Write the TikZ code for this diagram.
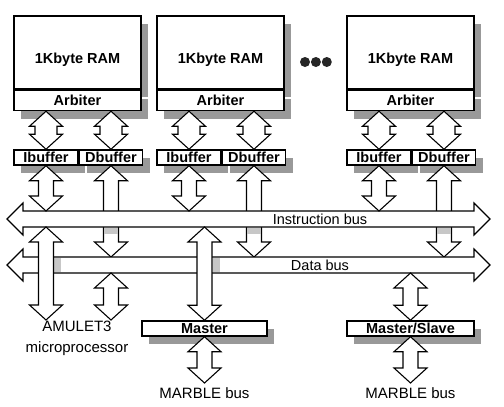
\documentclass[tikz,border=0pt]{standalone}
\usepackage{fontspec}
\setmainfont{Liberation Sans}
\usetikzlibrary{positioning,calc,shadows}

% fat hollow double arrow, straight down from #2 to #3 (#1 = half shaft width)
\newcommand{\fatarrow}[3][7.5pt]{%
  \draw[fat] let \p1=#2, \p2=#3 in
    (\x1,\y1) -- (\x1+16.5pt,\y1-15pt) -- (\x1+#1,\y1-15pt) -- (\x1+#1,\y2+15pt)
    -- (\x1+16.5pt,\y2+15pt) -- (\x1,\y2) -- (\x1-16.5pt,\y2+15pt) -- (\x1-#1,\y2+15pt)
    -- (\x1-#1,\y1-15pt) -- (\x1-16.5pt,\y1-15pt) -- cycle;}
% fat hollow double arrow for a bus, from #1 (left tip) to #2 (right tip)
\newcommand{\busarrow}[2]{%
  \draw[fat] let \p1=#1, \p2=#2 in
    (\x1,\y1) -- (\x1+16pt,\y1+16pt) -- (\x1+16pt,\y1+8pt) -- (\x2-16pt,\y1+8pt)
    -- (\x2-16pt,\y1+16pt) -- (\x2,\y1) -- (\x2-16pt,\y1-16pt) -- (\x2-16pt,\y1-8pt)
    -- (\x1+16pt,\y1-8pt) -- (\x1+16pt,\y1-16pt) -- cycle;}

\begin{document}
\begin{tikzpicture}[x=1pt,y=-1pt,
    boxshadow/.style={drop shadow={shadow xshift=7pt, shadow yshift=-8pt, fill=black!40, opacity=1}},
    ram/.style={draw, line width=1.5pt, fill=white, minimum width=127pt, minimum height=73pt,
      text height=21pt, text depth=0pt, font={\bfseries\fontsize{14.5}{16}\selectfont}, boxshadow},
    arbiter/.style={draw, line width=1.5pt, fill=white, minimum width=127pt, minimum height=20pt,
      inner sep=0pt, font={\bfseries\fontsize{14.5}{16}\selectfont}, boxshadow},
    buffer/.style={draw, line width=1.5pt, fill=white, minimum height=15pt, inner sep=0pt,
      font={\bfseries\fontsize{14.5}{16}\selectfont}, boxshadow},
    fat/.style={draw, line width=1.1pt, fill=white, line join=miter},
    graypatch/.style={fill=black!22},
    buslabel/.style={inner sep=0pt, font={\fontsize{14.5}{17}\selectfont}},
    outlabel/.style={inner sep=0pt, align=center, font={\fontsize{15}{21}\selectfont}},
    dot/.style={circle, fill=black!85, inner sep=0pt, minimum size=10pt}]
  \path[use as bounding box, fill=white] (0,0) rectangle (504,407);

  % memory blocks
  \node[ram] (ram1) at (77.5,52.5) {1Kbyte RAM};
  \node[arbiter, below=0pt of ram1] (arb1) {Arbiter};
  \node[ram] (ram2) at (220.5,52.5) {1Kbyte RAM};
  \node[arbiter, below=0pt of ram2] (arb2) {Arbiter};
  \node[ram] (ram3) at (410.5,52.5) {1Kbyte RAM};
  \node[arbiter, below=0pt of ram3] (arb3) {Arbiter};
  \node[dot] (dot1) at (305,62) {};
  \node[dot, right=0.5pt of dot1] (dot2) {};
  \node[dot, right=0.5pt of dot2] (dot3) {};

  % buffers
  \node[buffer, minimum width=64pt] (ib1) at (46,157.5) {Ibuffer};
  \node[buffer, minimum width=63pt, right=0pt of ib1] (db1) {Dbuffer};
  \node[buffer, minimum width=64pt] (ib2) at (189,157.5) {Ibuffer};
  \node[buffer, minimum width=63pt, right=0pt of ib2] (db2) {Dbuffer};
  \node[buffer, minimum width=64pt] (ib3) at (379,157.5) {Ibuffer};
  \node[buffer, minimum width=63pt, right=0pt of ib3] (db3) {Dbuffer};

  % bus interfaces
  \node[buffer, minimum width=125pt] (mst) at (204.5,328.5) {Master};
  \node[buffer, minimum width=127pt] (ms) at (410.5,328.5) {Master/Slave};

  \coordinate (ibL) at (7,219);
  \coordinate (ibR) at (490,219);
  \coordinate (dbL) at (7,265);
  \coordinate (dbR) at (490,265);
  \coordinate (ibN) at (0,211);
  \coordinate (ibS) at (0,227);
  \coordinate (dbN) at (0,257);
  \coordinate (dbS) at (0,273);
  \coordinate (cpuN) at (0,320);
  \coordinate (mbN) at (0,383);

  % arbiter to buffers
  \fatarrow[11pt]{(arb1.south -| ib1)}{(ib1.north)}
  \fatarrow[11pt]{(arb1.south -| db1)}{(db1.north)}
  \fatarrow[11pt]{(arb2.south -| ib2)}{(ib2.north)}
  \fatarrow[11pt]{(arb2.south -| db2)}{(db2.north)}
  \fatarrow[11pt]{(arb3.south -| ib3)}{(ib3.north)}
  \fatarrow[11pt]{(arb3.south -| db3)}{(db3.north)}

  % data side, behind the instruction bus
  \fatarrow{(db1.south)}{(db1.south |- dbN)}
  \fatarrow{(db2.south)}{(db2.south |- dbN)}
  \fatarrow{(db3.south)}{(db3.south |- dbN)}

  % buses
  \busarrow{(ibL)}{(ibR)}
  \busarrow{(dbL)}{(dbR)}
  \node[buslabel] (iblabel) at (320,219) {Instruction bus};
  \node[buslabel] (dblabel) at (320,265) {Data bus};

  % instruction side
  \fatarrow{(ib1.south)}{(ib1.south |- ibN)}
  \fatarrow{(ib2.south)}{(ib2.south |- ibN)}
  \fatarrow{(ib3.south)}{(ib3.south |- ibN)}

  % shadows where things cross
  \fill[graypatch] ($(db1.south |- ibS)+(-7pt,-0.6pt)$) rectangle +(14pt,-6.5pt);
  \fill[graypatch] ($(db2.south |- ibS)+(-7pt,-0.6pt)$) rectangle +(14pt,-6.5pt);
  \fill[graypatch] ($(db3.south |- ibS)+(-7pt,-0.6pt)$) rectangle +(14pt,-6.5pt);
  \fill[graypatch] ($(ib1.south |- dbN)+(8pt,-0.6pt)$) rectangle +(7pt,-14.8pt);
  \fill[graypatch] ($(mst.north |- dbN)+(8pt,-0.6pt)$) rectangle +(7pt,-14.8pt);

  % processor and MARBLE
  \fatarrow{(ib1.south |- ibS)}{(ib1.south |- cpuN)}
  \fatarrow{(db1.south |- dbS)}{(db1.south |- cpuN)}
  \fatarrow{(mst.north |- ibS)}{(mst.north)}
  \fatarrow{(ms.north |- dbS)}{(ms.north)}
  \fatarrow{(mst.south)}{(mst.south |- mbN)}
  \fatarrow{(ms.south)}{(ms.south |- mbN)}

  \node[outlabel] (cpu) at (77,338) {AMULET3\\microprocessor};
  \node[outlabel] (mb1) at (204.5,393) {MARBLE bus};
  \node[outlabel] (mb2) at (410.5,393) {MARBLE bus};
\end{tikzpicture}
\end{document}
